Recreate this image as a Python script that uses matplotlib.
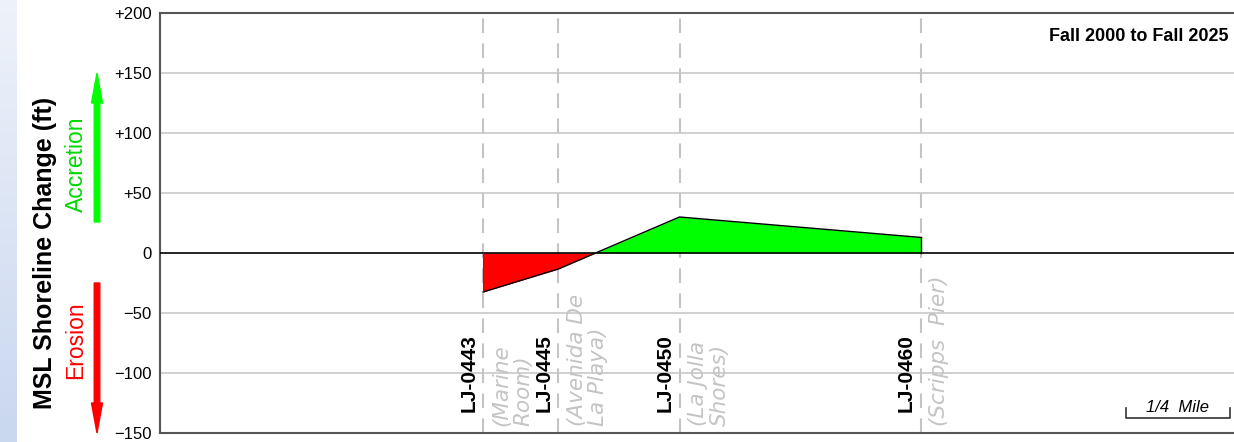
import numpy as np
import matplotlib.pyplot as plt
from matplotlib.colors import LinearSegmentedColormap
from matplotlib.patches import FancyArrow

plt.rcParams['font.family'] = ['Liberation Sans', 'DejaVu Sans']
plt.rcParams['axes.unicode_minus'] = True

# alongshore distance (miles) and MSL shoreline change (ft)
profile_ids = ['LJ-0443', 'LJ-0445', 'LJ-0450', 'LJ-0460']
profile_pos = [0.776, 0.957, 1.248, 1.827]
change_ft = [-32.5, -13.3, 30.0, 13.0]
place_names = ['(Marine\nRoom)', '(Avenida De\nLa Playa)', '(La Jolla\nShores)', '(Scripps  Pier)']
y_ticks = [200, 150, 100, 50, 0, -50, -100, -150]
y_ticklabels = ['+200', '+150', '+100', '+50', '0', '\u221250', '\u2212100', '\u2212150']
x_range = (0.0, 2.58)
scale_len = 0.25

W, H = 1234, 442
fig = plt.figure(figsize=(W / 100, H / 100), dpi=100)

# left gradient strip
strip = fig.add_axes([0, 0, 17 / W, 1])
grad = np.linspace(0, 1, 256).reshape(-1, 1)
cm = LinearSegmentedColormap.from_list('s', ['#eef2fa', '#c9d7ef'])
strip.imshow(grad, aspect='auto', cmap=cm, extent=[0, 1, 0, 1], origin='upper')
strip.axis('off')

ax = fig.add_axes([160 / W, 9 / H, (W - 160) / W, 420 / H])
ax.set_xlim(*x_range)
ax.set_ylim(-150, 200)

for y in y_ticks:
    if y not in (0, 200, -150):
        ax.axhline(y, color='#c8c8c8', lw=1.2, zorder=1)
ax.axhline(0, color='black', lw=1.2, zorder=4)

for p in profile_pos:
    ax.axvline(p, color='#c4c4c4', lw=1.5, ls=(0, (7, 5)), zorder=2)

x = np.array(profile_pos)
v = np.array(change_ft)
ax.fill_between(x, v, 0, where=v <= 0, interpolate=True, color='#ff0000', lw=0, zorder=3)
ax.fill_between(x, v, 0, where=v >= 0, interpolate=True, color='#00ff00', lw=0, zorder=3)
ax.plot(x, v, color='black', lw=1, zorder=5)
ax.plot([x[0], x[0]], [0, v[0]], color='#444444', lw=0.8, zorder=5)
ax.plot([x[-1], x[-1]], [0, v[-1]], color='black', lw=1, zorder=5)

ax.set_yticks(y_ticks)
ax.set_yticklabels(y_ticklabels, fontsize=12)
ax.tick_params(axis='y', length=0, pad=6)
ax.set_xticks([])
for s in ['left', 'top', 'bottom']:
    ax.spines[s].set_color('#555555')
    ax.spines[s].set_linewidth(1.5)
ax.spines['right'].set_visible(False)

# profile labels
for p, pid, name in zip(profile_pos, profile_ids, place_names):
    ax.annotate(pid, (p, -150), xytext=(-3.5, 15), textcoords='offset points',
                rotation=90, ha='right', va='bottom', fontsize=15, fontweight='bold')
    ax.annotate(name, (p, -150), xytext=(6, 5), textcoords='offset points',
                rotation=90, ha='left', va='bottom', fontsize=15.5, style='italic',
                color='#c4c4c4', family='DejaVu Sans', linespacing=1.1,
                multialignment='left')

ax.text(0.9945, 0.945, 'Fall 2000 to Fall 2025', transform=ax.transAxes,
        ha='right', va='center', fontsize=13, fontweight='bold')

# scale bar
x1 = x_range[1] - 0.01
x0 = x1 - scale_len
ax.plot([x0, x0, x1, x1], [-129, -137.5, -137.5, -129], color='#333333', lw=1.2, zorder=6)
ax.text((x0 + x1) / 2, -135, '1/4  Mile', ha='center', va='bottom', fontsize=12,
        style='italic', zorder=6)

# y label and arrows
fig.text(45 / W, 1 - 253 / H, 'MSL Shoreline Change (ft)', rotation=90, ha='center',
         va='center', fontsize=18, fontweight='bold')
fig.text(76 / W, 1 - 164 / H, 'Accretion', rotation=90, ha='center', va='center',
         fontsize=16.5, color='#00d800')
fig.text(76 / W, 1 - 340 / H, 'Erosion', rotation=90, ha='center', va='center',
         fontsize=16.5, color='#ff0000')
fig.add_artist(FancyArrow(
    97 / W, 1 - 222 / H, 0, (222 - 73) / H, width=2 / H, head_width=11 / W,
    head_length=30 / H, length_includes_head=True, color='#00ff00', transform=fig.transFigure))
fig.add_artist(FancyArrow(
    97 / W, 1 - 283 / H, 0, -(433 - 283) / H, width=2 / H, head_width=11 / W,
    head_length=30 / H, length_includes_head=True, color='#ff0000', transform=fig.transFigure))

fig.savefig('out.png', dpi=100)
